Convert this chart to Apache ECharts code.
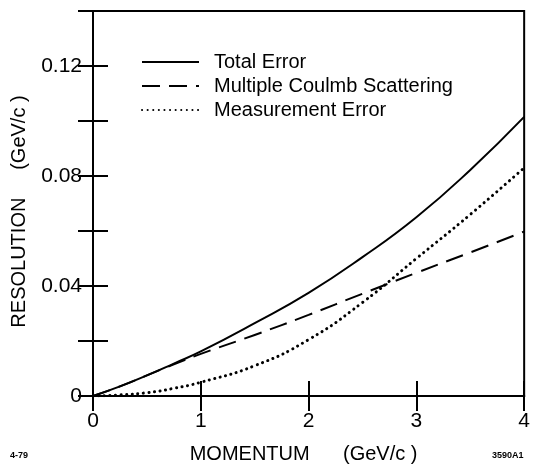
<!DOCTYPE html>
<html>
<head>
<meta charset="utf-8">
<script src="https://cdn.jsdelivr.net/npm/echarts@6/dist/echarts.min.js"></script>
<style>
html,body{margin:0;padding:0;background:#fff;}
#chart{width:533px;height:469px;}
</style>
</head>
<body>
<div id="chart"></div>
<script>
var momentum = [0, 0.25, 0.5, 0.75, 1, 1.5, 2, 2.5, 3, 3.5, 4];
var totalError = [0, 0.0035, 0.0075, 0.0118, 0.0162, 0.0265, 0.0375, 0.0505, 0.0650, 0.0822, 0.1015];
var coulombScattering = [0, 0.0035, 0.0075, 0.0115, 0.0153, 0.0222, 0.0295, 0.0372, 0.0448, 0.0522, 0.0598];
var measurementError = [0, 0.0004, 0.0012, 0.0028, 0.0050, 0.0110, 0.0205, 0.0340, 0.0500, 0.0660, 0.0830];
var seriesNames = ['Total Error', 'Multiple Coulmb Scattering', 'Measurement Error'];
var xTicks = [0, 1, 2, 3, 4];
var yLabels = ['0', '0.04', '0.08', '0.12'];

function pairs(ys) { return momentum.map(function (x, i) { return [x, ys[i]]; }); }

var FONT = '"Liberation Sans", Arial, sans-serif';
var chart = echarts.init(document.getElementById('chart'), null, {renderer: 'canvas'});
var tickStyle = {show: true, inside: true, length: 15, lineStyle: {color: '#000', width: 2}};
chart.setOption({
  backgroundColor: '#fff',
  animation: false,
  grid: {left: 93, top: 11, width: 432, height: 385, show: true, borderColor: '#000', borderWidth: 2, backgroundColor: 'transparent'},
  legend: {
    orient: 'vertical', left: 141, top: 52, padding: 0,
    itemWidth: 57, itemHeight: 14, itemGap: 4,
    data: seriesNames,
    itemStyle: {opacity: 0},
    textStyle: {fontFamily: FONT, fontSize: 20, color: '#000', padding: [0, 0, 0, 10]}
  },
  xAxis: [{
    type: 'value', min: xTicks[0], max: xTicks[xTicks.length - 1], interval: 1,
    axisLine: {show: true, lineStyle: {color: '#000', width: 2}},
    axisTick: tickStyle, splitLine: {show: false},
    axisLabel: {fontFamily: FONT, fontSize: 21, color: '#000', margin: 15},
    name: 'MOMENTUM      (GeV/c )', nameLocation: 'middle', nameGap: 48,
    nameTextStyle: {fontFamily: FONT, fontSize: 20, color: '#000', padding: [0, 10, 0, 0]}
  }, {
    type: 'value', position: 'top', min: 0, max: 4, interval: 1,
    axisLine: {show: true, lineStyle: {color: '#000', width: 2}},
    axisTick: tickStyle, axisLabel: {show: false}, splitLine: {show: false}
  }],
  yAxis: [{
    type: 'value', min: 0, max: 0.14, interval: 0.02,
    axisLine: {show: true, lineStyle: {color: '#000', width: 2}},
    axisTick: tickStyle, splitLine: {show: false},
    axisLabel: {
      fontFamily: FONT, fontSize: 21, color: '#000', margin: 11,
      formatter: function (v) {
        var k = Math.round(v * 100);
        if (k % 4 !== 0) return '';
        return yLabels[k / 4] || '';
      }
    },
    name: 'RESOLUTION     (GeV/c )', nameLocation: 'middle', nameGap: 64,
    nameTextStyle: {fontFamily: FONT, fontSize: 20, color: '#000', padding: [0, 16, 0, 0]}
  }, {
    type: 'value', position: 'right', min: 0, max: 0.14, interval: 0.02,
    axisLine: {show: true, lineStyle: {color: '#000', width: 2}},
    axisTick: tickStyle, axisLabel: {show: false}, splitLine: {show: false}
  }],
  series: [{
    name: seriesNames[0], type: 'line', smooth: true, symbol: 'none',
    data: pairs(totalError),
    lineStyle: {color: '#000', width: 2, type: 'solid'}, itemStyle: {color: '#000'}
  }, {
    name: seriesNames[1], type: 'line', smooth: true, symbol: 'none',
    data: pairs(coulombScattering),
    lineStyle: {color: '#000', width: 2, type: [18, 9]}, itemStyle: {color: '#000'}
  }, {
    name: seriesNames[2], type: 'line', smooth: true, symbol: 'none',
    data: pairs(measurementError),
    lineStyle: {color: '#000', width: 3, type: [0.1, 5.5], cap: 'round'}, itemStyle: {color: '#000'}
  }],
  graphic: [
    {type: 'text', left: 10, top: 451, style: {text: '4-79', font: 'bold 9px ' + FONT, fill: '#000'}},
    {type: 'text', left: 492, top: 451, style: {text: '3590A1', font: 'bold 9px ' + FONT, fill: '#000'}}
  ]
});
</script>
</body>
</html>
